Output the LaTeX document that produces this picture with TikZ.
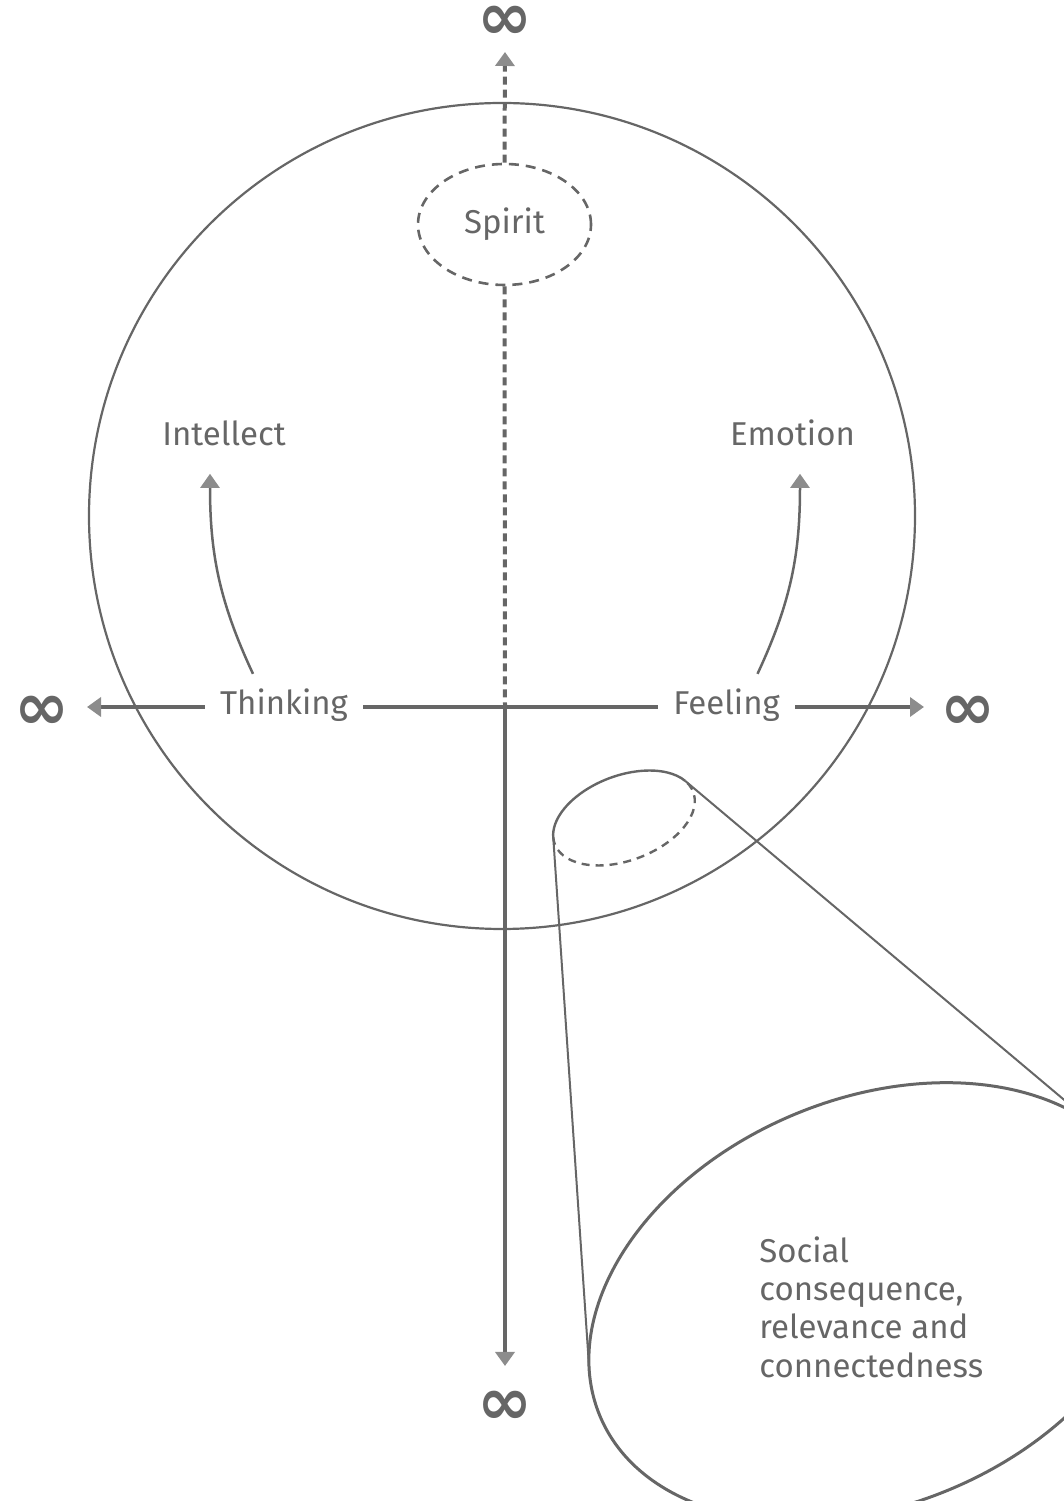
\documentclass[tikz,border=0pt]{standalone}
\usepackage{fontspec}
\setmainfont{Fira Sans}
\newfontfamily\symfont{DejaVu Sans}
\usetikzlibrary{arrows.meta,shapes.geometric}
\definecolor{linegray}{HTML}{666666}
\definecolor{tipgray}{HTML}{8C8C8C}

\begin{document}
\begin{tikzpicture}[x=0.5pt,y=0.5pt,
  every node/.style={text=linegray,font=\fontsize{16.5pt}{19.25pt}\selectfont},
  word/.style={inner sep=7.5pt,anchor=base},
  infsign/.style={font=\fontsize{33pt}{33pt}\symfont\bfseries,inner sep=0pt},
  arrowtip/.style={-{Triangle[width=9.5pt,length=7pt,color=tipgray]}},
  axisline/.style={draw=linegray,line width=2pt},
  dashline/.style={draw=linegray,line width=2pt,dash pattern=on 4pt off 2.5pt},
  thinline/.style={draw=linegray,line width=1.1pt},
  curvearrow/.style={draw=linegray,line width=1.25pt,arrowtip}]
  \useasboundingbox (0,0) rectangle (1064,1501);
  \clip (0,0) rectangle (1064,1501);

  % Kreis
  \draw[thinline] (502,985) circle[radius=413];

  % Geist
  \node[ellipse,draw=linegray,line width=1.3pt,dash pattern=on 5pt off 3.5pt,
    minimum width=86.5pt,minimum height=60.5pt,inner sep=0pt] (spirit) at (504.5,1276.5) {Spirit};

  % Achsen
  \coordinate (centre) at (505,794);
  \coordinate (tipT) at (505,1449);
  \coordinate (tipL) at (87,794);
  \coordinate (tipR) at (924,794);
  \coordinate (tipB) at (505,135);
  \node[infsign] (infT) at (505,1478) {∞};
  \node[infsign] (infL) at (42,788) {∞};
  \node[infsign] (infR) at (968,788) {∞};
  \node[infsign] (infB) at (505,93) {∞};

  \node[word] (thinking) at (284,786) {Thinking};
  \node[word] (feeling) at (726.5,786) {Feeling};
  \node[word] (intellect) at (224,1055) {Intellect};
  \node[word] (emotion) at (792.5,1055) {Emotion};

  \draw[dashline] (spirit.south) -- (centre);
  \draw[dashline,arrowtip] (spirit.north) -- (tipT);
  \draw[axisline,arrowtip] (thinking.west |- centre) -- (tipL);
  \draw[axisline] (thinking.east |- centre) -- (feeling.west |- centre);
  \draw[axisline,arrowtip] (feeling.east |- centre) -- (tipR);
  \draw[axisline,arrowtip] (centre) -- (tipB);

  % Bögen
  \draw[curvearrow] ([xshift=-15.5pt]thinking.north) to[out=115,in=-90] ([xshift=-7pt,yshift=-6pt]intellect.south);
  \draw[curvearrow] ([xshift=15.5pt]feeling.north) to[out=65,in=-90] ([xshift=3.75pt,yshift=-6pt]emotion.south);

  % Kegel
  \begin{scope}[shift={(624,683)},rotate=20.6]
    \coordinate (capR) at ({74*cos(18)},{42.4*sin(18)});
    \coordinate (capL) at ({74*cos(170.3)},{42.4*sin(170.3)});
    \draw[draw=linegray,line width=1.2pt] (capR) arc[start angle=18,end angle=170.3,x radius=74,y radius=42.4];
    \draw[draw=linegray,line width=1.2pt,dash pattern=on 4pt off 3pt] (capL) arc[start angle=170.3,end angle=378,x radius=74,y radius=42.4];
  \end{scope}
  \begin{scope}[shift={(872,199)},rotate=22.8]
    \draw[draw=linegray,line width=1.5pt] (0,0) ellipse[x radius=295,y radius=203];
    \coordinate (baseR) at ({295*cos(19.6)},{203*sin(19.6)});
    \coordinate (baseL) at ({295*cos(166.8)},{203*sin(166.8)});
  \end{scope}
  \draw[thinline,line width=1pt] (capL) -- (baseL);
  \draw[thinline,line width=1pt] (capR) -- (baseR);

  \node[anchor=base west,align=left,inner sep=0pt] (social) at (759,123.5)
    {Social\\consequence,\\relevance and\\connectedness};
\end{tikzpicture}
\end{document}
